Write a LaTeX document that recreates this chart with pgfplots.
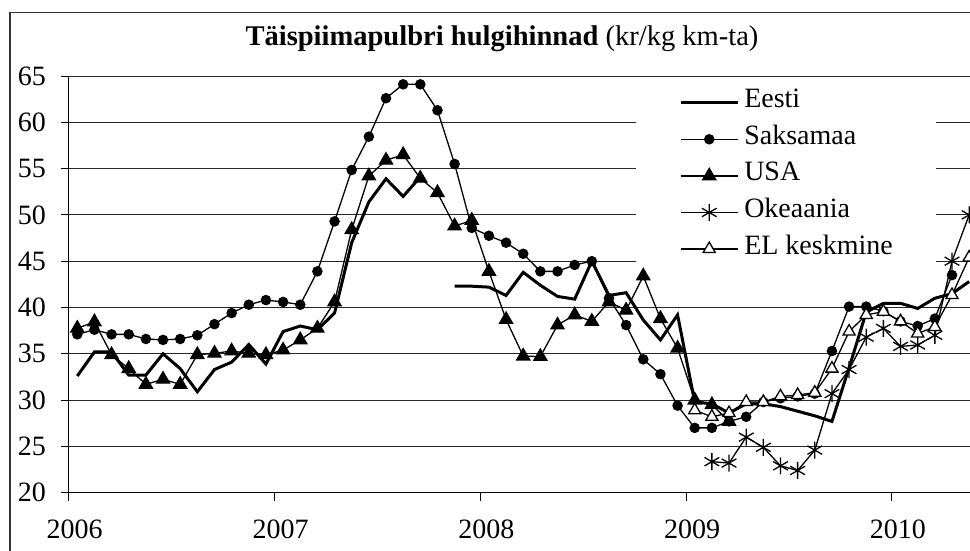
\documentclass[border=0pt]{standalone}
\usepackage{fontspec}
\setmainfont{Liberation Serif}
\usepackage{pgfplots}
\pgfplotsset{compat=1.18}
\usepackage{pgfplotstable}
\newlength\px \setlength\px{0.75pt}

\pgfplotstableread{
x y
0.5 32.6
1.5 35.2
2.5 35.2
3.5 32.7
4.5 32.7
5.5 35.0
6.5 33.4
7.5 30.9
8.5 33.3
9.5 34.1
10.5 36.0
11.5 33.9
12.5 37.4
13.5 38.0
14.5 37.6
15.5 39.4
16.5 47.0
17.5 51.4
18.5 53.9
19.5 52.0
20.5 54.1
21.5 nan
22.5 42.3
23.5 42.3
24.5 42.2
25.5 41.3
26.5 43.8
27.5 42.4
28.5 41.2
29.5 40.9
30.5 45.0
31.5 41.3
32.5 41.6
33.5 38.65
34.5 36.5
35.5 39.2
36.5 29.8
37.5 29.6
38.5 28.6
39.5 29.6
40.5 29.6
41.5 29.3
42.5 28.8
43.5 28.3
44.5 27.7
45.5 33.5
46.5 39.5
47.5 40.45
48.5 40.45
49.5 39.9
50.5 41.0
51.5 41.5
52.5 42.8
}\eesti

\pgfplotstableread{
x y
0.5 37.1
1.5 37.6
2.5 37.1
3.5 37.1
4.5 36.6
5.5 36.5
6.5 36.6
7.5 37.0
8.5 38.2
9.5 39.4
10.5 40.3
11.5 40.8
12.5 40.6
13.5 40.3
14.5 43.9
15.5 49.3
16.5 54.85
17.5 58.45
18.5 62.6
19.5 64.1
20.5 64.1
21.5 61.3
22.5 55.5
23.5 48.6
24.5 47.75
25.5 47.0
26.5 45.8
27.5 43.9
28.5 43.9
29.5 44.6
30.5 45.0
31.5 41.0
32.5 38.1
33.5 34.4
34.5 32.8
35.5 29.4
36.5 27.0
37.5 27.0
38.5 27.7
39.5 28.2
40.5 29.8
41.5 30.2
42.5 30.4
43.5 30.7
44.5 35.3
45.5 40.1
46.5 40.1
47.5 39.6
48.5 38.5
49.5 38.0
50.5 38.8
51.5 43.5
}\saksamaa

\pgfplotstableread{
x y
0.5 37.75
1.5 38.45
2.5 34.9
3.5 33.4
4.5 31.7
5.5 32.25
6.5 31.7
7.5 34.9
8.5 35.05
9.5 35.3
10.5 35.05
11.5 34.9
12.5 35.4
13.5 36.5
14.5 37.75
15.5 40.6
16.5 48.4
17.5 54.2
18.5 55.9
19.5 56.5
20.5 53.95
21.5 52.4
22.5 48.8
23.5 49.4
24.5 43.9
25.5 38.7
26.5 34.75
27.5 34.7
28.5 38.1
29.5 39.2
30.5 38.5
31.5 40.6
32.5 39.7
33.5 43.4
34.5 38.8
35.5 35.6
36.5 30.0
37.5 29.5
38.5 27.7
}\usa

\pgfplotstableread{
x y
37.5 23.35
38.5 23.2
39.5 26.0
40.5 24.9
41.5 22.9
42.5 22.4
43.5 24.6
44.5 30.7
45.5 33.3
46.5 36.8
47.5 37.75
48.5 35.8
49.5 35.95
50.5 37.0
51.5 45.0
52.5 50.0
}\okeaania

\pgfplotstableread{
x y
36.5 28.9
37.5 28.2
38.5 28.6
39.5 29.8
40.5 29.8
41.5 30.4
42.5 30.55
43.5 30.8
44.5 33.4
45.5 37.4
46.5 39.2
47.5 39.55
48.5 38.5
49.5 37.2
50.5 37.9
51.5 41.35
52.5 45.4
}\el

\begin{document}
\begin{tikzpicture}
\useasboundingbox (0,0) rectangle (970\px,550\px);
\draw[line width=1.3\px, black!80] (10\px,-5\px) -- (10\px,537.3\px) -- (975\px,537.3\px);
\node[font=\fontsize{21.4pt}{25pt}\selectfont, anchor=base] at (502\px,504\px)
  {\textbf{Täispiimapulbri hulgihinnad} (kr/kg km-ta)};
\begin{axis}[
  at={(68.7\px,57.3\px)}, anchor=south west, scale only axis,
  width=901.3\px, height=416.7\px,
  xmin=0, xmax=52.55, ymin=20, ymax=65,
  axis x line*=bottom, axis y line*=left,
  axis line style={black, line width=1.3\px},
  ytick={20,25,...,65},
  xtick={0,12,24,36,48},
  xticklabels={2006,2007,2008,2009,2010},
  ymajorgrids, grid style={black!85, line width=1\px},
  tick align=outside, major tick length=8\px,
  tick style={black, line width=1\px},
  /pgf/number format/assume math mode=true,
  ticklabel style={font=\fontsize{21pt}{25pt}\selectfont},
  xticklabel style={xshift=6\px, yshift=-14\px},
  yticklabel style={xshift=-10\px},
  unbounded coords=jump,
  clip=false,
  legend cell align=left,
  legend style={
    at={(rel axis cs:0.6294,0.975)}, anchor=north west,
    draw=none, fill=white, inner xsep=43\px, inner ysep=6\px,
    font=\fontsize{21pt}{25pt}\selectfont,
    column sep=5\px, row sep=16.6\px,
    nodes={inner sep=0pt, text height=15\px, text depth=5\px}
  },
  legend image code/.code={%
    \draw[mark repeat=2,mark phase=2,#1] plot coordinates {(-3\px,0\px) (25.5\px,0\px) (54\px,0\px)};},
]
\addplot[black, line width=3\px, no markers] table {\eesti};
\addlegendentry{Eesti}
\addplot[black, line width=1.3\px, mark=*, mark size=4.6\px, mark options={solid}] table {\saksamaa};
\addlegendentry{Saksamaa}
\addplot[black, line width=1.3\px, mark=triangle*, mark size=7.5\px, mark options={solid}] table {\usa};
\addlegendentry{USA}
\addplot[black, line width=1.3\px, mark=asterisk, mark size=8.5\px, mark options={solid}] table {\okeaania};
\addlegendentry{Okeaania}
\addplot[black, line width=1.3\px, mark=triangle*, mark size=7\px, mark options={solid, fill=white}] table {\el};
\addlegendentry{EL keskmine}
\end{axis}
\end{tikzpicture}
\end{document}
